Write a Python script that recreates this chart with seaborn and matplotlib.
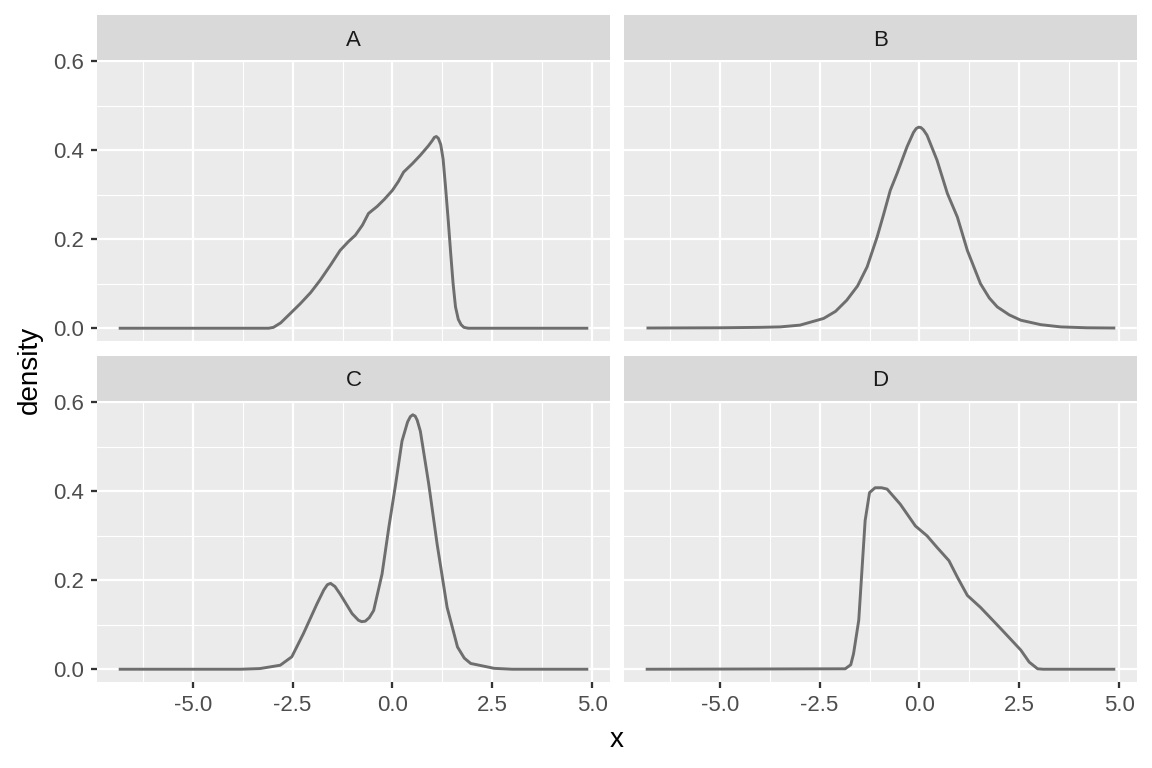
import numpy as np
import pandas as pd
import matplotlib
matplotlib.use("Agg")
import matplotlib.pyplot as plt
from matplotlib.patches import Rectangle
from matplotlib.ticker import FixedLocator
import seaborn as sns

# Density curves, one panel per letter
panels = ["A", "B", "C", "D"]

a_x = [-6.82, -3.10, -2.98, -2.80, -2.56, -2.31, -2.05, -1.81, -1.55, -1.31, -1.10, -0.93,
       -0.75, -0.60, -0.38, -0.20, 0.00, 0.15, 0.28, 0.50, 0.70, 0.90, 1.00, 1.05, 1.10, 1.15,
       1.21, 1.27, 1.33, 1.40, 1.46, 1.52, 1.58, 1.65, 1.72, 1.79, 1.90, 4.87]
a_y = [0.000, 0.000, 0.002, 0.012, 0.033, 0.055, 0.080, 0.108, 0.142, 0.175, 0.195, 0.209,
       0.232, 0.258, 0.274, 0.290, 0.310, 0.330, 0.351, 0.370, 0.389, 0.410, 0.422, 0.429, 0.431, 0.427,
       0.413, 0.380, 0.318, 0.240, 0.168, 0.100, 0.048, 0.020, 0.008, 0.002, 0.000, 0.000]

b_x = [-6.80, -5.00, -4.00, -3.49, -2.99, -2.40, -2.10, -1.82, -1.55, -1.31, -1.06, -0.90,
       -0.73, -0.56, -0.31, -0.15, -0.08, -0.02, 0.04, 0.10, 0.19, 0.44, 0.70, 0.95, 1.20, 1.53,
       1.75, 1.95, 2.25, 2.54, 3.04, 3.54, 4.20, 4.87]
b_y = [0.0005, 0.001, 0.002, 0.003, 0.007, 0.022, 0.038, 0.063, 0.095, 0.138, 0.205, 0.255,
       0.310, 0.348, 0.408, 0.440, 0.449, 0.452, 0.451, 0.446, 0.434, 0.378, 0.303, 0.250, 0.175, 0.100,
       0.068, 0.048, 0.030, 0.018, 0.008, 0.003, 0.001, 0.0005]

c_x = [-6.82, -3.80, -3.32, -2.81, -2.52, -2.23, -1.89, -1.72, -1.63, -1.55, -1.44, -1.31,
       -1.01, -0.85, -0.77, -0.68, -0.58, -0.47, -0.26, -0.09, 0.08, 0.24, 0.38, 0.45, 0.51,
       0.57, 0.62, 0.70, 0.91, 1.12, 1.37, 1.63, 1.80, 1.96, 2.55, 3.00, 4.87]
c_y = [0.000, 0.000, 0.0015, 0.009, 0.028, 0.080, 0.147, 0.178, 0.190, 0.193, 0.186, 0.169,
       0.125, 0.110, 0.107, 0.108, 0.116, 0.132, 0.214, 0.319, 0.416, 0.513, 0.556, 0.568, 0.572,
       0.569, 0.560, 0.535, 0.416, 0.281, 0.139, 0.050, 0.025, 0.013, 0.002, 0.000, 0.000]

d_x = [-6.82, -1.86, -1.72, -1.65, -1.52, -1.44, -1.36, -1.25, -1.11, -0.95, -0.81, -0.48,
       -0.10, 0.19, 0.44, 0.74, 0.95, 1.20, 1.53, 2.04, 2.54, 2.75, 2.96, 3.10, 4.87]
d_y = [0.000, 0.001, 0.010, 0.035, 0.110, 0.222, 0.334, 0.397, 0.408, 0.408, 0.405, 0.371,
       0.322, 0.300, 0.274, 0.244, 0.207, 0.166, 0.139, 0.091, 0.043, 0.016, 0.001, 0.000, 0.000]

x_ticks = [-5.0, -2.5, 0.0, 2.5, 5.0]
x_tick_labels = ["-5.0", "-2.5", "0.0", "2.5", "5.0"]
y_ticks = [0.0, 0.2, 0.4, 0.6]
y_tick_labels = ["0.0", "0.2", "0.4", "0.6"]


def build_frame():
    parts = []
    for name, xs, ys in zip(panels, [a_x, b_x, c_x, d_x], [a_y, b_y, c_y, d_y]):
        parts.append(pd.DataFrame({"panel": name, "x": xs, "density": ys}))
    return pd.concat(parts, ignore_index=True)


def style_panel(ax, name, show_x, show_y, strip_h):
    ax.set_facecolor("#EBEBEB")
    for sp in ax.spines.values():
        sp.set_visible(False)
    ax.set_xlim(-7.40, 5.45)
    ax.set_ylim(-0.0287, 0.603)
    ax.xaxis.set_major_locator(FixedLocator(x_ticks))
    ax.xaxis.set_minor_locator(FixedLocator([-6.25, -3.75, -1.25, 1.25, 3.75]))
    ax.yaxis.set_major_locator(FixedLocator(y_ticks))
    ax.yaxis.set_minor_locator(FixedLocator([0.1, 0.3, 0.5]))
    ax.grid(which="major", color="white", linewidth=1.1)
    ax.grid(which="minor", color="white", linewidth=0.55)
    ax.set_axisbelow(True)
    ax.tick_params(which="minor", length=0)
    ax.tick_params(which="major", length=2.9, width=1.1, color="#333333",
                   labelcolor="#4D4D4D", labelsize=10.7, pad=3.2)
    if show_x:
        ax.set_xticklabels(x_tick_labels)
        ax.tick_params(axis="x", labelbottom=True)
    else:
        ax.tick_params(axis="x", which="major", length=0, labelbottom=False)
    if show_y:
        ax.set_yticklabels(y_tick_labels)
        ax.tick_params(axis="y", labelleft=True)
    else:
        ax.tick_params(axis="y", which="major", length=0, labelleft=False)
    ax.set_xlabel("")
    ax.set_ylabel("")
    ax.set_title("")
    # ggplot-style strip above the panel
    ax.add_patch(Rectangle((0, 1), 1, strip_h, transform=ax.transAxes,
                           facecolor="#D9D9D9", edgecolor="none", clip_on=False))
    ax.text(0.5, 1 + strip_h / 2, name, transform=ax.transAxes, ha="center",
            va="center_baseline", fontsize=10.7, color="#1A1A1A")


def main():
    plt.rcParams["font.family"] = ["Liberation Sans", "DejaVu Sans"]
    df = build_frame()

    g = sns.FacetGrid(df, col="panel", col_wrap=2, col_order=panels,
                      sharex=False, sharey=False, height=2.5, aspect=1.5)
    g.map_dataframe(sns.lineplot, x="x", y="density", color="#6E6E6E",
                    linewidth=1.4, estimator=None, sort=True)

    fig = g.figure
    fig.set_size_inches(7.68, 5.12)
    fig.set_facecolor("white")

    W, H = 1152, 768
    panel_h = 281
    boxes = {"A": (97, 60), "B": (624, 60), "C": (97, 401), "D": (624, 401)}
    for name, ax in zip(panels, g.axes.flat):
        left, top = boxes[name]
        ax.set_position([left / W, 1 - (top + panel_h) / H, 513 / W, panel_h / H])
        style_panel(ax, name, show_x=name in ("C", "D"), show_y=name in ("A", "C"),
                    strip_h=45 / panel_h)

    fig.text(29.5 / W, 1 - 370 / H, "density", rotation=90, ha="center", va="center",
             fontsize=13.4, color="black")
    fig.text(617 / W, 1 - 740 / H, "x", ha="center", va="center", fontsize=13.4, color="black")

    fig.savefig("out.png", dpi=150)


if __name__ == "__main__":
    main()
